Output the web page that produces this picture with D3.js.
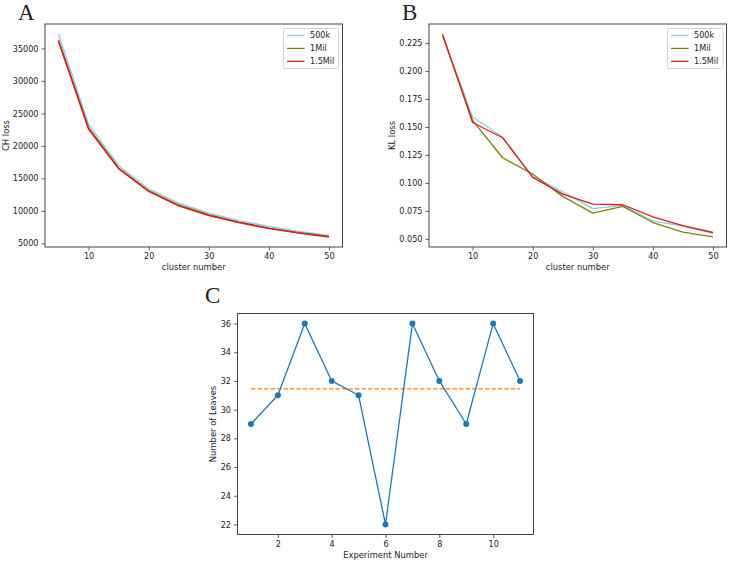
<!DOCTYPE html>
<html>
<head>
<meta charset="utf-8">
<script src="https://cdn.jsdelivr.net/npm/d3@7"></script>
<style>
  html, body { margin: 0; padding: 0; background: #fff; }
  svg { display: block; }
  text { font-family: "DejaVu Sans", sans-serif; fill: #222; }
</style>
</head>
<body>
<svg id="chart" width="729" height="562"></svg>
<script>
// ---------- DATA ----------
const clusterNumbers = [5, 10, 15, 20, 25, 30, 35, 40, 45, 50];
const seriesNames = ["500k", "1Mil", "1.5Mil"];
const seriesColors = ["#87ceeb", "#808000", "#e01b1b"];

const chLoss500k  = [37200, 23300, 16950, 13400, 11200, 9650, 8500, 7600, 6850, 6200];
const chLoss1Mil  = [36300, 22800, 16600, 13100, 10900, 9400, 8250, 7350, 6650, 6050];
const chLoss15Mil = [36100, 22600, 16500, 13000, 10800, 9300, 8200, 7300, 6600, 6000];

const klLoss500k  = [0.232, 0.159, 0.141, 0.106, 0.092, 0.077, 0.080, 0.066, 0.0615, 0.055];
const klLoss1Mil  = [0.232, 0.156, 0.1225, 0.108, 0.088, 0.073, 0.079, 0.0646, 0.056, 0.0518];
const klLoss15Mil = [0.233, 0.154, 0.1404, 0.105, 0.090, 0.081, 0.0805, 0.0697, 0.0619, 0.0557];

const experimentNumbers = [1, 2, 3, 4, 5, 6, 7, 8, 9, 10, 11];
const leaves = [29, 31, 36, 32, 31, 22, 36, 32, 29, 36, 32];

const chTicksX = [10, 20, 30, 40, 50];
const chTicksY = [5000, 10000, 15000, 20000, 25000, 30000, 35000];
const klTicksY = [0.050, 0.075, 0.100, 0.125, 0.150, 0.175, 0.200, 0.225];
const leavesTicksX = [2, 4, 6, 8, 10];
const leavesTicksY = [22, 24, 26, 28, 30, 32, 34, 36];

// ---------- HELPERS ----------
const svg = d3.select("#chart");
const TICK_FONT = 8.1, LABEL_FONT = 8.4, LEGEND_FONT = 8.1;

function padded(ext) {
  const m = (ext[1] - ext[0]) * 0.05;
  return [ext[0] - m, ext[1] + m];
}

function panel(opt) {
  const g = svg.append("g");
  const x = d3.scaleLinear().domain(padded(opt.xExt)).range([opt.left, opt.right]);
  const y = d3.scaleLinear().domain(padded(opt.yExt)).range([opt.bottom, opt.top]);

  const xAxis = d3.axisBottom(x).tickValues(opt.xTicks).tickSize(3.5).tickPadding(3)
    .tickFormat(opt.xFormat || d3.format("d"));
  const yAxis = d3.axisLeft(y).tickValues(opt.yTicks).tickSize(3.5).tickPadding(3)
    .tickFormat(opt.yFormat || d3.format("d"));

  const gx = g.append("g").attr("transform", `translate(0,${opt.bottom})`).call(xAxis);
  const gy = g.append("g").attr("transform", `translate(${opt.left},0)`).call(yAxis);
  [gx, gy].forEach(a => {
    a.select(".domain").remove();
    a.selectAll(".tick line").attr("stroke", "#333").attr("stroke-width", 0.8);
    a.selectAll(".tick text").style("font-size", TICK_FONT + "px").attr("fill", "#222")
      .style("font-family", "DejaVu Sans, sans-serif");
  });

  g.append("rect").attr("x", opt.left).attr("y", opt.top)
    .attr("width", opt.right - opt.left).attr("height", opt.bottom - opt.top)
    .attr("fill", "none").attr("stroke", "#333").attr("stroke-width", 0.9);

  g.append("text").attr("x", (opt.left + opt.right) / 2).attr("y", opt.bottom + 23)
    .attr("text-anchor", "middle").style("font-size", LABEL_FONT + "px").text(opt.xLabel);
  g.append("text")
    .attr("transform", `translate(${opt.yLabelX},${(opt.top + opt.bottom) / 2}) rotate(-90)`)
    .attr("text-anchor", "middle").attr("dy", "0.35em")
    .style("font-size", LABEL_FONT + "px").text(opt.yLabel);

  g.append("text").attr("x", opt.letterX).attr("y", opt.letterY)
    .style("font-family", "Liberation Serif, Times New Roman, serif")
    .style("font-size", "23px").attr("fill", "#000").text(opt.letter);

  return { g, x, y };
}

function legend(g, x0, y0, w, h) {
  const lg = g.append("g");
  lg.append("rect").attr("x", x0).attr("y", y0).attr("width", w).attr("height", h)
    .attr("rx", 1.5).attr("fill", "#fff").attr("stroke", "#ccc").attr("stroke-width", 0.8);
  seriesNames.forEach((name, i) => {
    const yy = y0 + 7 + i * 12.9;
    lg.append("line").attr("x1", x0 + 3.5).attr("x2", x0 + 21).attr("y1", yy).attr("y2", yy)
      .attr("stroke", seriesColors[i]).attr("stroke-width", 1.3);
    lg.append("text").attr("x", x0 + 26.5).attr("y", yy).attr("dy", "0.35em")
      .style("font-size", LEGEND_FONT + "px").text(name);
  });
}

// ---------- PANEL A ----------
const chSeries = [chLoss500k, chLoss1Mil, chLoss15Mil];
const A = panel({
  left: 45, right: 342.5, top: 24, bottom: 247,
  xExt: d3.extent(clusterNumbers),
  yExt: [d3.min(chSeries.flat()), d3.max(chSeries.flat())],
  xTicks: chTicksX, yTicks: chTicksY,
  xLabel: "cluster number", yLabel: "CH loss", yLabelX: 6,
  letter: "A", letterX: 18, letterY: 20
});
chSeries.forEach((vals, i) => {
  const line = d3.line().x((d, j) => A.x(clusterNumbers[j])).y(d => A.y(d));
  A.g.append("path").datum(vals).attr("d", line).attr("fill", "none")
    .attr("stroke", seriesColors[i]).attr("stroke-width", i === 2 ? 1.6 : 1.4)
    .attr("stroke-linejoin", "round");
});
legend(A.g, 283.5, 28.5, 55, 40);

// ---------- PANEL B ----------
const klSeries = [klLoss500k, klLoss1Mil, klLoss15Mil];
const B = panel({
  left: 429, right: 726.5, top: 24, bottom: 247,
  xExt: d3.extent(clusterNumbers),
  yExt: [d3.min(klSeries.flat()), d3.max(klSeries.flat())],
  xTicks: chTicksX, yTicks: klTicksY, yFormat: d3.format(".3f"),
  xLabel: "cluster number", yLabel: "KL loss", yLabelX: 392,
  letter: "B", letterX: 402, letterY: 20
});
klSeries.forEach((vals, i) => {
  const line = d3.line().x((d, j) => B.x(clusterNumbers[j])).y(d => B.y(d));
  B.g.append("path").datum(vals).attr("d", line).attr("fill", "none")
    .attr("stroke", seriesColors[i]).attr("stroke-width", 1.3)
    .attr("stroke-linejoin", "round");
});
legend(B.g, 667.5, 28.5, 55.5, 40);

// ---------- PANEL C ----------
const C = panel({
  left: 237.5, right: 533.5, top: 313.5, bottom: 534.5,
  xExt: d3.extent(experimentNumbers),
  yExt: d3.extent(leaves),
  xTicks: leavesTicksX, yTicks: leavesTicksY,
  xLabel: "Experiment Number", yLabel: "Number of Leaves", yLabelX: 213.5,
  letter: "C", letterX: 205, letterY: 303
});
const meanLeaves = d3.mean(leaves);
C.g.append("line")
  .attr("x1", C.x(d3.min(experimentNumbers))).attr("x2", C.x(d3.max(experimentNumbers)))
  .attr("y1", C.y(meanLeaves)).attr("y2", C.y(meanLeaves))
  .attr("stroke", "#ff7f0e").attr("stroke-width", 1.3).attr("stroke-dasharray", "4.5,2");
C.g.append("path").datum(leaves)
  .attr("d", d3.line().x((d, j) => C.x(experimentNumbers[j])).y(d => C.y(d)))
  .attr("fill", "none").attr("stroke", "#1f77b4").attr("stroke-width", 1.3)
  .attr("stroke-linejoin", "round");
C.g.selectAll("circle.pt").data(leaves).enter().append("circle")
  .attr("class", "pt")
  .attr("cx", (d, j) => C.x(experimentNumbers[j])).attr("cy", d => C.y(d))
  .attr("r", 3).attr("fill", "#1f77b4");
</script>
</body>
</html>
